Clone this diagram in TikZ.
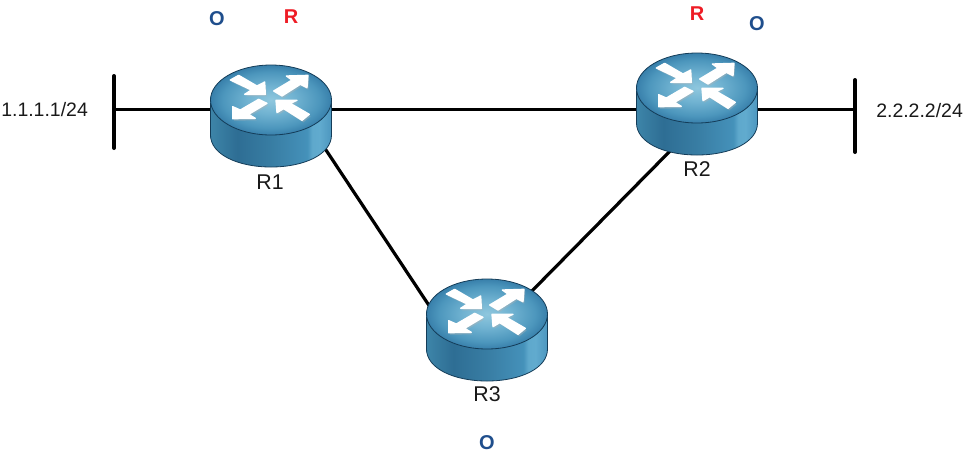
\documentclass[tikz,border=0pt]{standalone}
\usepackage{fontspec}
\setmainfont{Liberation Sans}
\definecolor{ospfblue}{HTML}{1F4E8C}
\definecolor{ripred}{HTML}{EE1C25}
\definecolor{rimdark}{HTML}{143C58}
\pgfdeclareradialshading{routertop}{\pgfpointorigin}{
  rgb(0bp)=(0.56,0.78,0.87);
  rgb(10bp)=(0.44,0.70,0.82);
  rgb(20bp)=(0.30,0.59,0.74);
  rgb(25bp)=(0.22,0.50,0.67);
  rgb(50bp)=(0.22,0.50,0.67)}
\pgfdeclarehorizontalshading{routerbody}{100bp}{
  rgb(0bp)=(0.24,0.52,0.66);
  rgb(25bp)=(0.24,0.52,0.66);
  rgb(36bp)=(0.18,0.43,0.58);
  rgb(50bp)=(0.22,0.49,0.64);
  rgb(65bp)=(0.27,0.57,0.73);
  rgb(67bp)=(0.37,0.66,0.80);
  rgb(70bp)=(0.38,0.67,0.81);
  rgb(75bp)=(0.30,0.59,0.75);
  rgb(100bp)=(0.30,0.59,0.75)}
\tikzset{
  x=0.75pt,y=-0.75pt,
  link/.style={line width=2.4pt,black},
  bar/.style={line width=3pt,black,line cap=round},
  routerbase/.style={inner sep=0pt,minimum width=91pt,minimum height=76pt},
  devlabel/.style={font=\fontsize{16}{18}\selectfont,text=black!90,inner sep=0pt},
  netlabel/.style={font=\fontsize{14.6}{17}\selectfont,text=black!90,inner sep=0pt},
  ospf/.style={font=\fontsize{15}{17}\selectfont\bfseries,text=ospfblue,inner sep=0pt},
  rip/.style={font=\fontsize{15}{17}\selectfont\bfseries,text=ripred,inner sep=0pt},
  arrowshade/.style={fill=black!30,opacity=.4},
  arrowfill/.style={fill=white,draw=white,line width=1pt,line join=round},
  router/.pic={
    \path[shading=routerbody,draw=rimdark,line width=.6pt]
      (-60.5,35) .. controls (-60.5,54.3) and (-33.4,67) .. (0,67)
      .. controls (33.4,67) and (60.5,54.3) .. (60.5,35) -- (60.5,0) -- (-60.5,0) -- cycle;
    \path[draw=rimdark,line width=.6pt,shading=routertop]
      (0,0) ellipse [x radius=60.5,y radius=35];
    \begin{scope}[shift={(-49,-34)},scale=1/3]
      \foreach \d/\c in {(4,6)/arrowshade,(0,0)/arrowfill}{
        \begin{scope}[shift={\d}]
          \path[\c] (25,42)--(50,28)--(105,60)--(128,48)--(130,85)--(68,85)--(88,72)--cycle;
          \path[\c] (155,75)--(210,42)--(193,30)--(258,28)--(255,65)--(235,55)--(180,90)--cycle;
          \path[\c] (135,112)--(80,145)--(100,157)--(32,158)--(32,122)--(55,132)--(110,100)--cycle;
          \path[\c] (262,145)--(240,163)--(185,128)--(165,140)--(162,103)--(225,103)--(205,112)--cycle;
        \end{scope}
      }
    \end{scope}
  }
}
\begin{document}
\begin{tikzpicture}
\useasboundingbox (0,0) rectangle (967,457);
% routers' anchor nodes
\node[routerbase] (R1) at (271,115) {};
\node[routerbase] (R2) at (697,104) {};
\node[routerbase] (R3) at (487,329) {};
% network ends
\coordinate (L1t) at (114,76);
\coordinate (L1b) at (114,148);
\coordinate (L1m) at (114,109.5);
\coordinate (L2t) at (855,80);
\coordinate (L2b) at (855,152);
\coordinate (L2m) at (855,109.5);
\coordinate (R1a) at (322,144);
\coordinate (R3a) at (432,310);
\coordinate (R2a) at (675,146);
\coordinate (R3b) at (524,299);
% connectors
\draw[bar] (L1t) -- (L1b);
\draw[bar] (L2t) -- (L2b);
\draw[link] (L1m) -- (R1.center |- L1m);
\draw[link] (R1.center |- L1m) -- (R2.center |- L2m);
\draw[link] (R2.center |- L2m) -- (L2m);
\draw[link] (R1a) -- (R3a);
\draw[link] (R2a) -- (R3b);
% routers
\pic at (271,100) {router};
\pic at (697,88) {router};
\pic at (487,314) {router};
% labels
\node[devlabel] (t1) at (270,182) {R1};
\node[devlabel] (t2) at (697,169) {R2};
\node[devlabel] (t3) at (487,394) {R3};
\node[netlabel,anchor=west] (n1) at (1,110) {1.1.1.1/24};
\node[netlabel,anchor=west] (n2) at (876,111) {2.2.2.2/24};
\node[ospf] (o1) at (217,19) {O};
\node[rip] (r1) at (291,17) {R};
\node[rip] (r2) at (697,14) {R};
\node[ospf] (o2) at (757,24) {O};
\node[ospf] (o3) at (487,443) {O};
\end{tikzpicture}
\end{document}
